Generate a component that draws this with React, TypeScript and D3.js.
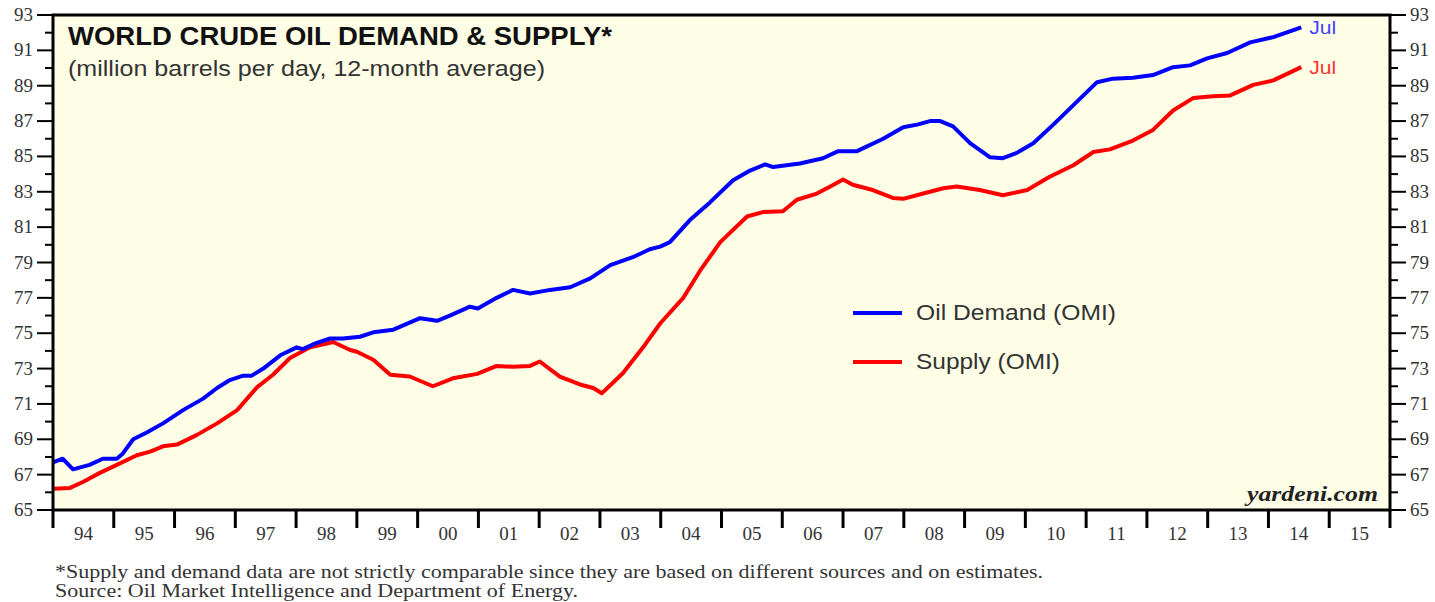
import React from "react";
import * as d3 from "d3";

// Demand (OMI), decimal-year sample dates and values (million b/d)
const demandDates = [1994.0, 1994.16, 1994.33, 1994.6, 1994.82, 1995.05, 1995.15, 1995.32, 1995.55, 1995.81, 1996.14, 1996.47, 1996.7, 1996.91, 1997.13, 1997.27, 1997.46, 1997.74, 1998.01, 1998.11, 1998.34, 1998.56, 1998.77, 1999.05, 1999.27, 1999.6, 2000.04, 2000.32, 2000.53, 2000.86, 2000.99, 2001.3, 2001.57, 2001.85, 2002.18, 2002.51, 2002.84, 2003.17, 2003.54, 2003.82, 2003.99, 2004.15, 2004.48, 2004.81, 2005.19, 2005.47, 2005.72, 2005.85, 2006.29, 2006.67, 2006.92, 2007.23, 2007.66, 2007.99, 2008.22, 2008.43, 2008.6, 2008.81, 2009.09, 2009.42, 2009.63, 2009.86, 2010.13, 2010.46, 2010.79, 2011.18, 2011.44, 2011.77, 2012.1, 2012.43, 2012.71, 2012.99, 2013.32, 2013.7, 2014.08, 2014.54];
const demandValues = [67.7, 67.9, 67.3, 67.55, 67.9, 67.9, 68.2, 69.0, 69.4, 69.9, 70.65, 71.3, 71.9, 72.35, 72.6, 72.6, 73.0, 73.75, 74.2, 74.1, 74.45, 74.7, 74.7, 74.8, 75.05, 75.2, 75.85, 75.7, 76.0, 76.5, 76.4, 77.0, 77.45, 77.25, 77.45, 77.6, 78.1, 78.85, 79.3, 79.75, 79.9, 80.15, 81.4, 82.4, 83.65, 84.2, 84.55, 84.4, 84.6, 84.9, 85.3, 85.3, 86.0, 86.65, 86.8, 87.0, 87.0, 86.7, 85.75, 84.95, 84.9, 85.2, 85.75, 86.8, 87.9, 89.2, 89.4, 89.45, 89.6, 90.05, 90.15, 90.55, 90.85, 91.45, 91.75, 92.3];

// Supply (OMI)
const supplyDates = [1994.0, 1994.28, 1994.5, 1994.77, 1995.05, 1995.38, 1995.6, 1995.81, 1996.04, 1996.37, 1996.7, 1997.03, 1997.36, 1997.62, 1997.9, 1998.23, 1998.61, 1998.89, 1999.0, 1999.27, 1999.55, 1999.87, 2000.25, 2000.58, 2000.98, 2001.3, 2001.57, 2001.85, 2002.01, 2002.34, 2002.67, 2002.89, 2003.03, 2003.38, 2003.71, 2003.99, 2004.37, 2004.65, 2004.98, 2005.42, 2005.68, 2006.01, 2006.24, 2006.57, 2006.79, 2007.0, 2007.16, 2007.49, 2007.82, 2007.99, 2008.32, 2008.65, 2008.87, 2009.25, 2009.63, 2010.03, 2010.4, 2010.79, 2011.12, 2011.39, 2011.77, 2012.1, 2012.43, 2012.76, 2013.09, 2013.37, 2013.75, 2014.08, 2014.54];
const supplyValues = [66.2, 66.25, 66.6, 67.1, 67.55, 68.1, 68.3, 68.6, 68.7, 69.25, 69.9, 70.65, 71.95, 72.65, 73.6, 74.2, 74.5, 74.05, 73.95, 73.5, 72.65, 72.55, 72.0, 72.45, 72.7, 73.15, 73.1, 73.15, 73.4, 72.55, 72.1, 71.9, 71.6, 72.75, 74.2, 75.55, 77.0, 78.55, 80.15, 81.6, 81.85, 81.9, 82.55, 82.9, 83.3, 83.7, 83.4, 83.1, 82.65, 82.6, 82.9, 83.2, 83.3, 83.1, 82.8, 83.1, 83.85, 84.5, 85.25, 85.4, 85.9, 86.5, 87.6, 88.3, 88.4, 88.45, 89.05, 89.3, 90.05];

const yearLabels = ["94", "95", "96", "97", "98", "99", "00", "01", "02", "03", "04", "05", "06", "07", "08", "09", "10", "11", "12", "13", "14", "15"];
const yTickValues = [65, 67, 69, 71, 73, 75, 77, 79, 81, 83, 85, 87, 89, 91, 93];

const L = 53, R = 1390, T = 15, B = 510;
const BG = "#FEFEE6";
const SERIF = "'Liberation Serif', 'Times New Roman', serif";
const SANS = "'Liberation Sans', Arial, sans-serif";

export default function App() {
  const x = d3.scaleLinear().domain([1994, 2016]).range([L, R]);
  const y = d3.scaleLinear().domain([65, 93]).range([B, T]);
  const line = d3.line<[number, number]>().x((d) => x(d[0])).y((d) => y(d[1]));
  const demand = demandDates.map((t, i) => [t, demandValues[i]] as [number, number]);
  const supply = supplyDates.map((t, i) => [t, supplyValues[i]] as [number, number]);
  const minor = d3.range(66, 93, 2);
  const yearEdges = d3.range(1994, 2017);
  const lastD = demand[demand.length - 1];
  const lastS = supply[supply.length - 1];

  return (
    <svg width={1435} height={602} style={{ position: "absolute", left: 0, top: 0, background: "#fff" }}>
      <rect x={L} y={T} width={R - L} height={B - T} fill={BG} />
      {/* title */}
      <text x={68} y={45} fontFamily={SANS} fontWeight="bold" fontSize={25} fill="#111" textLength={544} lengthAdjust="spacingAndGlyphs">WORLD CRUDE OIL DEMAND &amp; SUPPLY*</text>
      <text x={68} y={76} fontFamily={SANS} fontSize={22} fill="#333" textLength={477} lengthAdjust="spacingAndGlyphs">(million barrels per day, 12-month average)</text>
      {/* lines */}
      <path d={line(supply) || ""} fill="none" stroke="#FF0000" strokeWidth={4} strokeLinejoin="round" />
      <path d={line(demand) || ""} fill="none" stroke="#0000FF" strokeWidth={4} strokeLinejoin="round" />
      <text x={x(lastD[0]) + 8} y={y(lastD[1]) + 7} fontFamily={SANS} fontSize={19} fill="#4444FF" textLength={27} lengthAdjust="spacingAndGlyphs">Jul</text>
      <text x={x(lastS[0]) + 8} y={y(lastS[1]) + 7} fontFamily={SANS} fontSize={19} fill="#FF3333" textLength={27} lengthAdjust="spacingAndGlyphs">Jul</text>
      {/* legend */}
      <line x1={853} x2={902} y1={313} y2={313} stroke="#0000FF" strokeWidth={4} />
      <text x={916} y={320} fontFamily={SANS} fontSize={22} fill="#333" textLength={200} lengthAdjust="spacingAndGlyphs">Oil Demand (OMI)</text>
      <line x1={853} x2={902} y1={362} y2={362} stroke="#FF0000" strokeWidth={4} />
      <text x={916} y={369} fontFamily={SANS} fontSize={22} fill="#333" textLength={144} lengthAdjust="spacingAndGlyphs">Supply (OMI)</text>
      <text x={1378} y={501} textAnchor="end" fontFamily={SERIF} fontWeight="bold" fontStyle="italic" fontSize={21} fill="#222" textLength={131} lengthAdjust="spacingAndGlyphs">yardeni.com</text>
      {/* frame */}
      <rect x={L} y={T} width={R - L} height={B - T} fill="none" stroke="#000" strokeWidth={3} />
      {/* y ticks */}
      {yTickValues.map((v) => (
        <g key={"yt" + v}>
          <line x1={L - 16} x2={L} y1={y(v)} y2={y(v)} stroke="#000" strokeWidth={2} />
          <line x1={R} x2={R + 16} y1={y(v)} y2={y(v)} stroke="#000" strokeWidth={2} />
          <text x={L - 20} y={y(v) + 6} textAnchor="end" fontFamily={SERIF} fontSize={19} fill="#333">{v}</text>
          <text x={R + 20} y={y(v) + 6} fontFamily={SERIF} fontSize={19} fill="#333">{v}</text>
        </g>
      ))}
      {minor.map((v) => (
        <g key={"ym" + v}>
          <line x1={L - 8} x2={L} y1={y(v)} y2={y(v)} stroke="#000" strokeWidth={2} />
          <line x1={R} x2={R + 8} y1={y(v)} y2={y(v)} stroke="#000" strokeWidth={2} />
        </g>
      ))}
      {/* x ticks */}
      {yearEdges.map((t) => (
        <line key={"xt" + t} x1={x(t)} x2={x(t)} y1={B} y2={B + 18} stroke="#000" strokeWidth={3} />
      ))}
      {yearLabels.map((lab, i) => (
        <text key={"xl" + lab} x={x(1994 + i + 0.5)} y={540} textAnchor="middle" fontFamily={SERIF} fontSize={19} fill="#333">{lab}</text>
      ))}
      {/* footnote */}
      <text x={55} y={578} fontFamily={SERIF} fontSize={19} fill="#333" textLength={988} lengthAdjust="spacingAndGlyphs">*Supply and demand data are not strictly comparable since they are based on different sources and on estimates.</text>
      <text x={55} y={597} fontFamily={SERIF} fontSize={19} fill="#333" textLength={523} lengthAdjust="spacingAndGlyphs">Source: Oil Market Intelligence and Department of Energy.</text>
    </svg>
  );
}
